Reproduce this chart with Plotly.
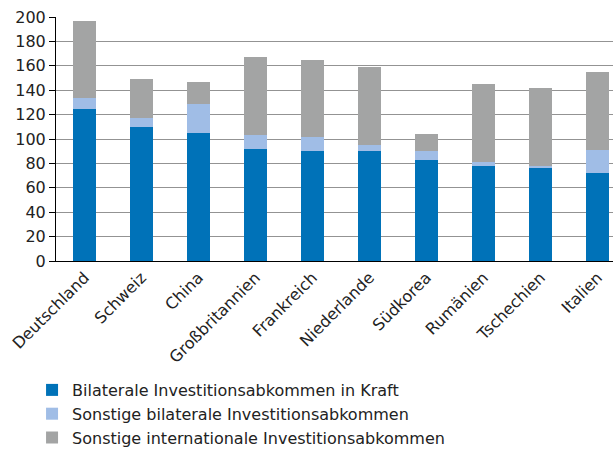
import plotly.graph_objects as go

countries = ["Deutschland", "Schweiz", "China", "Großbritannien", "Frankreich",
             "Niederlande", "Südkorea", "Rumänien", "Tschechien", "Italien"]
bit_in_force = [125, 110, 105, 92, 90, 90, 83, 78, 77, 72]
other_bilateral = [9, 7, 24, 11, 12, 5, 7, 3, 1, 19]
other_international = [63, 32, 18, 64, 63, 64, 14, 64, 64, 64]

series_names = ["Bilaterale Investitionsabkommen in Kraft",
                "Sonstige bilaterale Investitionsabkommen",
                "Sonstige internationale Investitionsabkommen"]
series_colors = ["#0072b8", "#a0bde6", "#a3a4a4"]
y_ticks = [0, 20, 40, 60, 80, 100, 120, 140, 160, 180, 200]

fig = go.Figure()
for name, vals, col in zip(series_names, [bit_in_force, other_bilateral, other_international], series_colors):
    fig.add_trace(go.Bar(x=countries, y=vals, name=name, marker=dict(color=col, line=dict(width=0))))

font = "DejaVu Sans, Liberation Sans, Arial, sans-serif"
fs = 16
fig.update_layout(
    width=613, height=455,
    margin=dict(l=56, r=0, t=17, b=194),
    barmode="stack", bargap=0.6,
    plot_bgcolor="white", paper_bgcolor="white",
    font=dict(family=font, size=fs, color="#222222"),
    showlegend=True,
    legend=dict(x=-0.043, xanchor="left", y=-0.46, yanchor="top",
                traceorder="normal", font=dict(size=fs, color="#222222"),
                bgcolor="rgba(0,0,0,0)", tracegroupgap=0),
)
fig.update_xaxes(type="category", range=[-0.5, 9.27], tickangle=-45, automargin=False,
                 showline=True, linecolor="black", linewidth=1,
                 showgrid=False, ticks="", tickfont=dict(size=fs))
fig.update_yaxes(range=[0, 200], tickvals=y_ticks, showline=True, linecolor="black",
                 linewidth=1, ticks="outside", ticklen=6, tickcolor="black", automargin=False,
                 showgrid=True, gridcolor="#939393", gridwidth=1,
                 zeroline=False, tickfont=dict(size=fs))

fig.write_html("out.html", config={"displayModeBar": False},
               post_script="document.body.style.margin='0';")
